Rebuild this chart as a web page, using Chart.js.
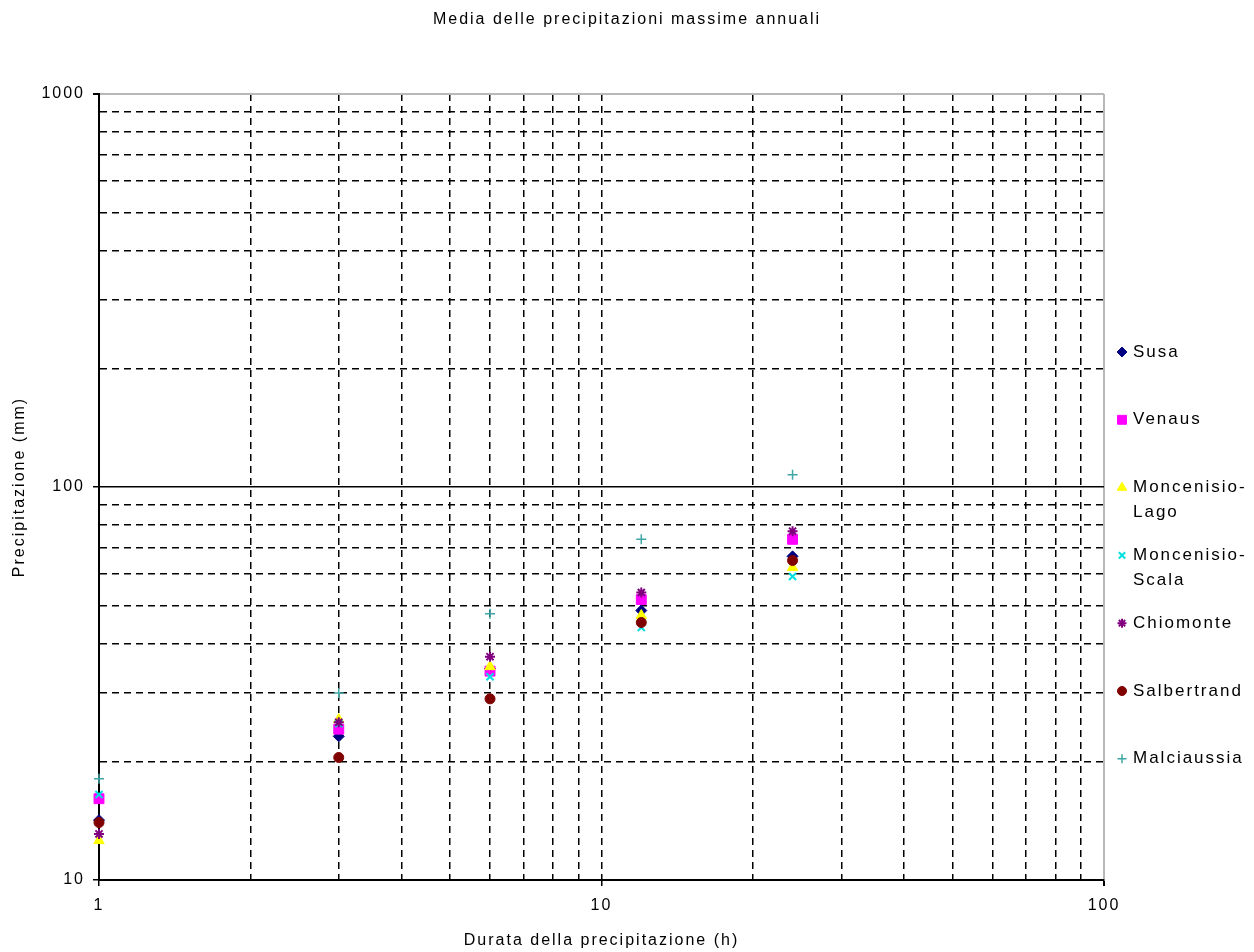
<!DOCTYPE html>
<html>
<head>
<meta charset="utf-8">
<title>Media delle precipitazioni massime annuali</title>
<script src="https://cdn.jsdelivr.net/npm/chart.js@4/dist/chart.umd.min.js"></script>
<style>
  html, body { margin: 0; padding: 0; background: #fff; }
  #chart { display: block; }
</style>
</head>
<body>
<canvas id="chart" width="1254" height="952"></canvas>
<script>
// durata (h) e medie delle precipitazioni massime annuali (mm)
const durations = [1, 3, 6, 12, 24];
const susa        = [14.2, 23.2, 34.5, 48.5, 66.6];
const venaus      = [16.1, 24.2, 34.0, 51.7, 73.6];
const lago        = [12.6, 25.6, 34.9, 47.1, 62.4];
const scala       = [16.5, 25.0, 32.9, 43.9, 59.2];
const chiomonte   = [13.1, 25.2, 37.0, 53.9, 77.2];
const salbertrand = [14.0, 20.5, 28.9, 45.2, 65.0];
const malciaussia = [18.1, 29.9, 47.6, 73.6, 107.4];

const seriesNames = ['Susa', 'Venaus', 'Moncenisio-Lago', 'Moncenisio-Scala', 'Chiomonte', 'Salbertrand', 'Malciaussia'];
const seriesValues = [susa, venaus, lago, scala, chiomonte, salbertrand, malciaussia];

const xTicks = [1, 2, 3, 4, 5, 6, 7, 8, 9, 10, 20, 30, 40, 50, 60, 70, 80, 90, 100];
const yTicks = [10, 20, 30, 40, 50, 60, 70, 80, 90, 100, 200, 300, 400, 500, 600, 700, 800, 900, 1000];

const styles = [
    { color: '#000080', pointStyle: 'rectRot', radius: 5.5, width: 1 },
    { color: '#ff00ff', pointStyle: 'rect', radius: 7, width: 1 },
    { color: '#ffff00', pointStyle: 'triangle', radius: 6, width: 1 },
    { color: '#00e0e0', pointStyle: 'crossRot', radius: 5, width: 2 },
    { color: '#800080', pointStyle: 'star', radius: 5, width: 2 },
    { color: '#800000', pointStyle: 'circle', radius: 5, width: 1 },
    { color: '#3fa6a6', pointStyle: 'cross', radius: 5, width: 1.5 }
];

const isDecade = v => Math.abs(Math.log10(v) - Math.round(Math.log10(v))) < 1e-9;

const datasets = seriesNames.map((name, i) => ({
    label: name,
    data: durations.map((d, k) => ({ x: d, y: seriesValues[i][k] })),
    backgroundColor: styles[i].color,
    borderColor: styles[i].color,
    borderWidth: styles[i].width,
    pointStyle: styles[i].pointStyle,
    pointRadius: styles[i].radius,
    showLine: false,
    clip: false,
    order: seriesNames.length - i
}));

Chart.defaults.font.family = '"Liberation Sans", Arial, sans-serif';
Chart.defaults.font.size = 16;
Chart.defaults.color = '#000';

// testo un po' spaziato come nel grafico originale
const spacingPlugin = {
    id: 'spacing',
    beforeUpdate(chart) { chart.ctx.letterSpacing = '2px'; },
    beforeDraw(chart) { chart.ctx.letterSpacing = '2px'; }
};

// legenda sulla destra, con le etichette lunghe su due righe
const sideLegend = {
    id: 'sideLegend',
    afterDraw(chart) {
        const ctx = chart.ctx;
        ctx.save();
        ctx.letterSpacing = '2px';
        ctx.font = '17px "Liberation Sans", Arial, sans-serif';
        ctx.textBaseline = 'middle';
        chart.data.datasets.forEach((ds, i) => {
            const y = 352 + i * 67.8;
            ctx.fillStyle = ds.backgroundColor;
            ctx.strokeStyle = ds.borderColor;
            ctx.lineWidth = ds.borderWidth;
            Chart.helpers.drawPoint(ctx, {
                pointStyle: ds.pointStyle,
                rotation: 0,
                radius: ds.pointRadius * 0.9,
                borderWidth: ds.borderWidth
            }, 1122, y);
            ctx.fillStyle = '#000';
            const parts = ds.label.split('-');
            const lines = parts.length > 1 ? [parts[0] + '-', parts[1]] : [ds.label];
            lines.forEach((line, k) => ctx.fillText(line, 1133, y + k * 24.5));
        });
        ctx.restore();
    }
};

function gridColor(edgeValue) {
    return ctx => (ctx.tick && ctx.tick.value === edgeValue) ? '#b8b8b8' : '#000';
}

new Chart(document.getElementById('chart'), {
    type: 'scatter',
    data: { datasets: datasets },
    plugins: [spacingPlugin, sideLegend],
    options: {
        responsive: false,
        animation: false,
        layout: { padding: 0 },
        plugins: {
            legend: { display: false },
            tooltip: { enabled: false },
            title: {
                display: true,
                text: 'Media delle precipitazioni massime annuali',
                color: '#000',
                font: { size: 16, weight: 'normal' },
                padding: { top: 10.4, bottom: 64.4 }
            }
        },
        scales: {
            x: {
                type: 'logarithmic',
                min: 1,
                max: 100,
                afterBuildTicks: scale => { scale.ticks = xTicks.map(v => ({ value: v })); },
                afterFit: scale => { scale.height = 72; },
                ticks: {
                    autoSkip: false,
                    maxRotation: 0,
                    padding: 10,
                    callback: v => isDecade(v) ? String(v) : ''
                },
                grid: {
                    color: gridColor(100),
                    lineWidth: ctx => (ctx.tick && ctx.tick.value === 100) ? 2 : 1.5,
                    tickLength: 6,
                    tickColor: ctx => (ctx.tick && isDecade(ctx.tick.value)) ? '#000' : 'rgba(0,0,0,0)'
                },
                border: {
                    color: '#000',
                    width: 2,
                    dash: ctx => (ctx.tick && ctx.tick.value !== 100 && ctx.tick.value !== 1) ? [7, 5] : []
                },
                title: {
                    display: true,
                    text: 'Durata della precipitazione (h)',
                    padding: { top: 0, bottom: 1.4 }
                }
            },
            y: {
                type: 'logarithmic',
                min: 10,
                max: 1000,
                afterBuildTicks: scale => { scale.ticks = yTicks.map(v => ({ value: v })); },
                afterFit: scale => { scale.width = 99; },
                ticks: {
                    autoSkip: false,
                    padding: 8,
                    callback: v => isDecade(v) ? String(v) : ''
                },
                grid: {
                    color: gridColor(1000),
                    lineWidth: ctx => (ctx.tick && ctx.tick.value === 1000) ? 2 : 1.5,
                    tickLength: 6,
                    tickColor: ctx => (ctx.tick && isDecade(ctx.tick.value)) ? '#000' : 'rgba(0,0,0,0)'
                },
                border: {
                    color: '#000',
                    width: 2,
                    dash: ctx => (ctx.tick && !isDecade(ctx.tick.value)) ? [7, 5] : []
                },
                title: {
                    display: true,
                    text: 'Precipitazione (mm)',
                    padding: { top: 10.4, bottom: 0 }
                }
            },
            // spazio vuoto a destra per la legenda
            legendSpace: {
                type: 'linear',
                position: 'right',
                afterFit: scale => { scale.width = 150; },
                ticks: { display: false },
                grid: { display: false, drawOnChartArea: false },
                border: { display: false }
            }
        }
    }
});
</script>
</body>
</html>
